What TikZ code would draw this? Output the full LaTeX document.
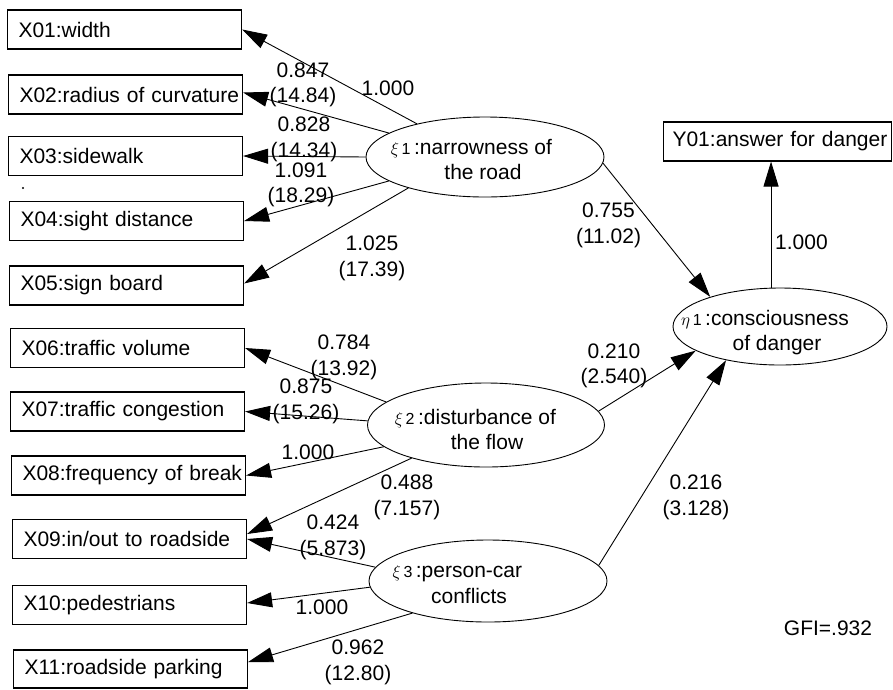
\documentclass[tikz,border=0pt]{standalone}
\usepackage{fontspec}
\setmainfont{Liberation Sans}
\usetikzlibrary{arrows.meta,shapes.geometric}
\newcommand\latpre[2]{\llap{{\fontsize{16}{16}\selectfont$#1$\,#2}\,}}
\newcommand\bx[1]{\mbox{#1}}
\begin{document}
\begin{tikzpicture}[x=1pt,y=-1pt,
  every node/.style={font=\fontsize{21}{25.5}\selectfont},
  obs/.style={draw,line width=1.1pt,anchor=west,minimum height=39pt,text width=212pt,inner xsep=11pt,inner ysep=0pt,align=left},
  lat/.style={draw,ellipse,line width=0.9pt,inner sep=0pt},
  lattxt/.style={align=center,inner sep=0pt},
  lbl/.style={align=center,inner sep=0pt},
  arr/.style={line width=0.9pt,-{Triangle[length=25pt,width=15pt]}}]
\useasboundingbox (0,0) rectangle (893,689);

% observed variables
\node[obs] (X01) at (7,29.5) {\bx{X01:width}};
\node[obs] (X02) at (8,94.5) {\bx{X02:radius of curvature}};
\node[obs] (X03) at (8,156) {\bx{X03:sidewalk}};
\node[obs] (X04) at (9,221) {\bx{X04:sight distance}};
\node[obs] (X05) at (9,285.5) {\bx{X05:sign board}};
\node[obs] (X06) at (10,348) {\bx{X06:traffic volume}};
\node[obs] (X07) at (10,411.5) {\bx{X07:traffic congestion}};
\node[obs] (X08) at (11,475.5) {\bx{X08:frequency of break}};
\node[obs] (X09) at (12,539) {\bx{X09:in/out to roadside}};
\node[obs] (X10) at (12,605) {\bx{X10:pedestrians}};
\node[obs,minimum height=38pt] (X11) at (13,669) {\bx{X11:roadside parking}};
\node[obs,text width=210pt,inner xsep=9pt] (Y01) at (663,141.5) {\bx{Y01:answer for danger}};
\node[circle,fill,inner sep=0pt,minimum size=2.2pt] (dot) at (23,188) {};

% latent variables
\node[lat,minimum width=238pt,minimum height=80pt] (xi1) at (485,157) {};
\node[lat,minimum width=237pt,minimum height=84pt] (xi2) at (486,425) {};
\node[lat,minimum width=238pt,minimum height=82pt] (xi3) at (488,581) {};
\node[lat,minimum width=214pt,minimum height=77pt] (eta1) at (780,326.5) {};
\node[lattxt] (xi1t) at (483,159.5) {\latpre{\xi}{1}:narrowness of\\the road};
\node[lattxt] (xi2t) at (487,429.5) {\latpre{\xi}{2}:disturbance of\\the flow};
\node[lattxt] (xi3t) at (469,584.5) {\latpre{\xi}{3}:person-car\\conflicts};
\node[lattxt] (eta1t) at (777,332.5) {\latpre{\eta}{1}:consciousness\\of danger};

% measurement arrows
\draw[arr] (xi1.154) -- (X01.east);
\draw[arr] (xi1.166) -- ([yshift=2pt]X02.east);
\draw[arr] (xi1.west) -- (X03.east);
\draw[arr] (xi1.194) -- (X04.east);
\draw[arr] (xi1.202) -- ([yshift=2pt]X05.east);
\draw[arr] (xi2.167) -- (X06.east);
\draw[arr] (xi2.178) -- (X07.east);
\draw[arr] (xi2.192) -- (X08.east);
\draw[arr] (xi2.204) -- ([yshift=5pt]X09.east);
\draw[arr] (xi3.173) -- (X09.east);
\draw[arr] (xi3.183) -- ([yshift=2pt]X10.east);
\draw[arr] (xi3.203) -- ([yshift=7pt]X11.east);

% structural arrows
\draw[arr] (xi1.-3) -- (eta1.157);
\draw[arr] (xi2.7) -- (eta1.196);
\draw[arr] (xi3.8) -- (eta1.212);
\draw[arr] (eta1.103) -- (eta1.103 |- Y01.south);

% coefficient labels
\node[lbl] (c01) at (388,88) {1.000};
\node[lbl] (c02) at (303,85) {0.847\\(14.84)};
\node[lbl] (c03) at (304,139.5) {0.828\\(14.34)};
\node[lbl] (c04) at (301,185) {1.091\\(18.29)};
\node[lbl] (c05) at (372,258.5) {1.025\\(17.39)};
\node[lbl] (c06) at (344,357.5) {0.784\\(13.92)};
\node[lbl] (c07) at (306,401.5) {0.875\\(15.26)};
\node[lbl] (c08) at (308,452) {1.000};
\node[lbl] (c09) at (407,497.5) {0.488\\(7.157)};
\node[lbl] (c10) at (333,537.5) {0.424\\(5.873)};
\node[lbl] (c11) at (322,607) {1.000};
\node[lbl] (c12) at (358,662.5) {0.962\\(12.80)};
\node[lbl] (g1) at (608.5,225.5) {0.755\\(11.02)};
\node[lbl] (g2) at (614,366) {0.210\\(2.540)};
\node[lbl] (g3) at (696,497.5) {0.216\\(3.128)};
\node[lbl,anchor=west] (ly) at (775,242) {1.000};
\node[lbl] (gfi) at (828,628) {GFI=.932};
\end{tikzpicture}
\end{document}
